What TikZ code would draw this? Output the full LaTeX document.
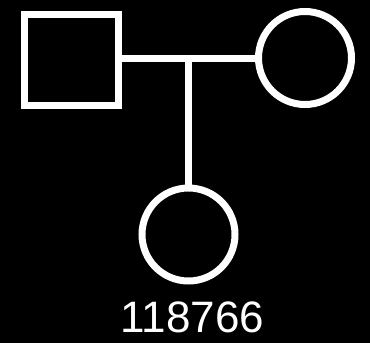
\documentclass[tikz,border=0pt]{standalone}
\usepackage{fontspec}
\setmainfont{Liberation Sans}
\usetikzlibrary{positioning}

\begin{document}
\begin{tikzpicture}[x=1pt,y=-1pt,
		person/.style={draw=white,line width=7pt,inner sep=0pt},
		male/.style={person,rectangle,minimum width=94pt,minimum height=91pt},
		female/.style={person,circle,minimum size=93pt},
		link/.style={draw=white,line width=7pt}]
			
			\fill[black] (0,0) rectangle (370,343);
			\useasboundingbox (0,0) rectangle (370,343);
			
			\node[male] (father) at (71.5,59.5) {};
			\node[female] (mother) at (305,58) {};
			\node[female] (child) at (188.5,234.5) {};
			\coordinate (mid) at (188.5,58);
			
			\draw[link] (father.east |- mid)-- (mother.west);
			\draw[link] (mid)-- (child.north);
			
			\node[text=white,anchor=base,inner sep=0pt,text depth=0pt,font=\fontsize{44}{44}\selectfont] (id) at (192.5,332.5) {118766};
			
		\end{tikzpicture}
\end{document}
